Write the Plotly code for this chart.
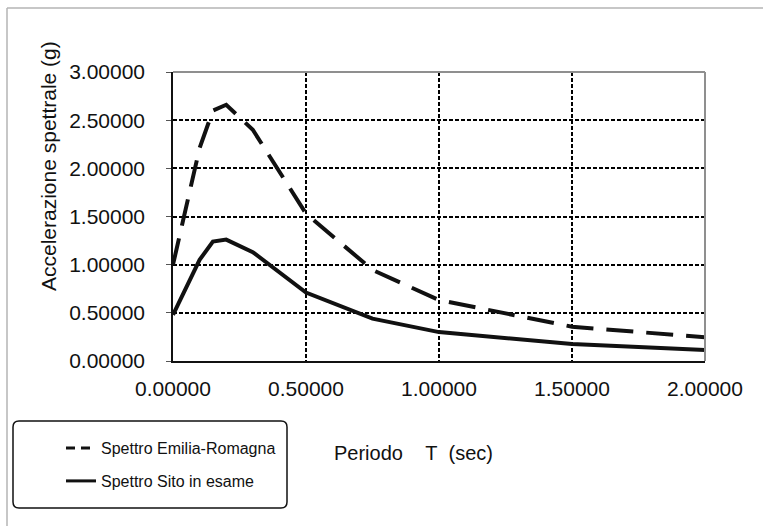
import plotly.graph_objects as go

# ---- data ----
T_er = [0.0, 0.1, 0.15, 0.2, 0.3, 0.5, 0.75, 1.0, 1.5, 2.0]
Sa_er = [1.00, 2.21, 2.60, 2.66, 2.40, 1.53, 0.945, 0.633, 0.356, 0.246]
T_site = [0.0, 0.1, 0.15, 0.2, 0.3, 0.5, 0.75, 1.0, 1.5, 2.0]
Sa_site = [0.48, 1.05, 1.24, 1.26, 1.13, 0.71, 0.44, 0.30, 0.176, 0.114]
x_ticks = [0.0, 0.5, 1.0, 1.5, 2.0]
y_ticks = [0.0, 0.5, 1.0, 1.5, 2.0, 2.5, 3.0]
name_er = "Spettro Emilia-Romagna"
name_site = "Spettro Sito in esame"
x_title = "Periodo\u00a0\u00a0\u00a0\u00a0T\u00a0\u00a0(sec)"
y_title = "Accelerazione spettrale (g)"

W, H = 763, 526
L, R, TOP, B = 173, 58, 72, 165
PW, PH = W - L - R, H - TOP - B
FONT = "Arial, Liberation Sans, sans-serif"


def px(x):
    return (x - L) / PW


def py(y):
    return (H - B - y) / PH


fig = go.Figure()
# data curves (legend entries are drawn by separate legend-only traces)
fig.add_trace(go.Scatter(
    x=T_er, y=Sa_er, mode="lines", name=name_er, showlegend=False,
    line=dict(color="#111111", width=4, dash="27px,13px"),
))
fig.add_trace(go.Scatter(
    x=T_site, y=Sa_site, mode="lines", name=name_site, showlegend=False,
    line=dict(color="#111111", width=4),
))
# legend entries
fig.add_trace(go.Scatter(
    x=[None], y=[None], mode="lines", name=name_er,
    line=dict(color="#111111", width=3, dash="9px,6px"),
    legend="legend",
))
fig.add_trace(go.Scatter(
    x=[None], y=[None], mode="lines", name=name_site,
    line=dict(color="#111111", width=3),
    legend="legend2",
))

grid = dict(showgrid=True, gridcolor="#000000", gridwidth=1.6, griddash="4px,2px")

fig.update_xaxes(
    range=[0, 2], tickvals=x_ticks, tickformat=".5f",
    showline=True, linecolor="#111111", linewidth=1.5,
    zeroline=False, ticks="", ticklabelstandoff=8,
    tickfont=dict(family=FONT, size=21, color="#111111"),
    **grid,
)
fig.update_yaxes(
    range=[0, 3], tickvals=y_ticks, tickformat=".5f",
    showline=True, linecolor="#111111", linewidth=1.5,
    zeroline=False, ticks="outside", ticklen=5, tickcolor="#555555",
    ticklabelstandoff=17,
    tickfont=dict(family=FONT, size=21, color="#111111"),
    **grid,
)

legend_common = dict(
    font=dict(family=FONT, size=16, color="#111111"),
    bgcolor="rgba(0,0,0,0)", borderwidth=0,
    xanchor="left", yanchor="middle", xref="paper", yref="paper",
)

# rounded legend frame
x0, x1, y0, y1, r = 13, 287, 421, 508, 6
path = (
    f"M {px(x0 + r)},{py(y0)} L {px(x1 - r)},{py(y0)} "
    f"Q {px(x1)},{py(y0)} {px(x1)},{py(y0 + r)} "
    f"L {px(x1)},{py(y1 - r)} Q {px(x1)},{py(y1)} {px(x1 - r)},{py(y1)} "
    f"L {px(x0 + r)},{py(y1)} Q {px(x0)},{py(y1)} {px(x0)},{py(y1 - r)} "
    f"L {px(x0)},{py(y0 + r)} Q {px(x0)},{py(y0)} {px(x0 + r)},{py(y0)} Z"
)

shapes = [
    # outer frame (top and left only visible)
    dict(type="line", xref="paper", yref="paper", x0=px(7), x1=px(W + 5), y0=py(8), y1=py(8),
         line=dict(color="#b5b5b5", width=1.5), layer="above"),
    dict(type="line", xref="paper", yref="paper", x0=px(7), x1=px(7), y0=py(8), y1=py(H + 5),
         line=dict(color="#b5b5b5", width=1.5), layer="above"),
    # plot frame top and right (gray)
    dict(type="line", xref="paper", yref="paper", x0=0, x1=1, y0=1, y1=1,
         line=dict(color="#8f8f8f", width=2), layer="above"),
    dict(type="line", xref="paper", yref="paper", x0=1, x1=1, y0=0, y1=1,
         line=dict(color="#8f8f8f", width=2), layer="above"),
    dict(type="path", xref="paper", yref="paper", path=path,
         line=dict(color="#111111", width=1.5), layer="above"),
]

annotations = [
    dict(text=x_title, xref="paper", yref="paper", x=px(332), y=py(453),
         xanchor="left", yanchor="middle", showarrow=False,
         font=dict(family=FONT, size=20, color="#111111")),
    dict(text=y_title, xref="paper", yref="paper", x=px(48), y=py(166),
         xanchor="center", yanchor="middle", textangle=-90, showarrow=False,
         font=dict(family=FONT, size=21, color="#111111")),
]

fig.update_layout(
    width=W, height=H,
    margin=dict(l=L, r=R, t=TOP, b=B, pad=0),
    paper_bgcolor="white", plot_bgcolor="white",
    showlegend=True,
    legend=dict(x=px(61), y=py(448), **legend_common),
    legend2=dict(x=px(61), y=py(481), **legend_common),
    shapes=shapes,
    annotations=annotations,
)

fig.write_html("out.html")
